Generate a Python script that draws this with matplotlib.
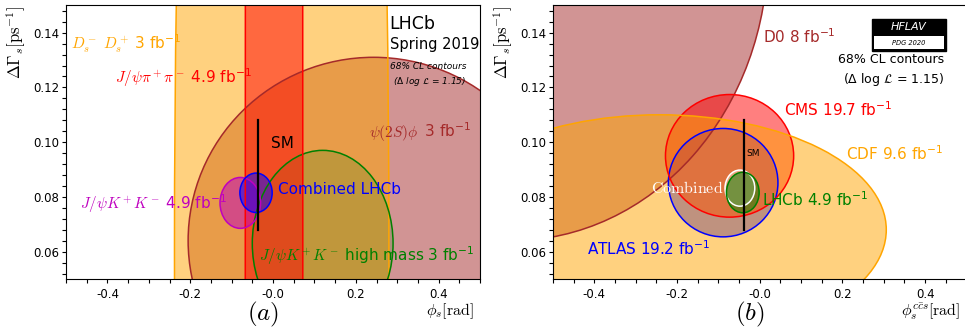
import numpy as np
import matplotlib
matplotlib.use('Agg')
import matplotlib.pyplot as plt
from matplotlib.patches import Ellipse, Rectangle
from matplotlib.ticker import MultipleLocator

plt.rcParams['axes.unicode_minus'] = False

# 68% CL contours: centre (x, y) and half axes (rx, ry)
# panel (a), LHCb only
a_names = ["psi2Sphi", "DsDs", "Jpsipipi", "JpsiKK_hm", "JpsiKK", "comb"]
a_cx = [0.243, 0.021, 0.0025, 0.12, -0.079, -0.041]
a_cy = [0.064, 0.06, 0.06, 0.063, 0.0778, 0.0815]
a_rx = [0.448, 0.259, 0.0695, 0.17, 0.049, 0.039]
a_ry = [0.067, 0.5, 1.0, 0.034, 0.0093, 0.0072]

# panel (b), all experiments
b_names = ["D0", "ATLAS", "CMS", "CDF", "comb", "LHCb"]
b_cx = [-0.6, -0.0885, -0.073, -0.242, -0.048, -0.041]
b_cy = [0.17, 0.0852, 0.095, 0.068, 0.0832, 0.0816]
b_rx = [0.62, 0.1325, 0.155, 0.548, 0.036, 0.0395]
b_ry = [0.106, 0.0198, 0.0224, 0.042, 0.0066, 0.0074]

# standard model prediction
sm_phi = -0.0369
sm_dg = [0.068, 0.108]

xticks = [-0.4, -0.2, 0.0, 0.2, 0.4]
xticklabels = ["-0.4", "-0.2", "-0.0", "0.2", "0.4"]
yticks = [0.06, 0.08, 0.10, 0.12, 0.14]
yticklabels = ["0.06", "0.08", "0.10", "0.12", "0.14"]

fig = plt.figure(figsize=(9.65, 3.31), dpi=100)
ax1 = fig.add_axes([66/965, 52/331, 414/965, 273.7/331])
ax2 = fig.add_axes([553/965, 52/331, 413.5/965, 273.7/331])


def draw_ellipses(ax, cx, cy, rx, ry, fcols, alphas, ecols):
    for i in range(len(cx)):
        ax.add_patch(Ellipse((cx[i], cy[i]), 2*rx[i], 2*ry[i], facecolor=fcols[i],
                             alpha=alphas[i], edgecolor='none', zorder=1+i*0.01))
    for i in range(len(cx)):
        ax.add_patch(Ellipse((cx[i], cy[i]), 2*rx[i], 2*ry[i], facecolor='none',
                             edgecolor=ecols[i], lw=1.1, zorder=2))


def label2(ax, x, y, mathpart, rest, color, size):
    # math part in computer modern, the luminosity part in the normal font
    t = ax.text(x, y, mathpart, color=color, fontsize=size, va='baseline',
                math_fontfamily='cm', zorder=5)
    fig.canvas.draw()
    bb = t.get_window_extent()
    x2 = ax.transData.inverted().transform((bb.x1, bb.y0))[0]
    ax.text(x2, y, rest, color=color, fontsize=size, va='baseline', zorder=5)


def style_axes(ax, xlab):
    ax.set_xlim(-0.5, 0.5)
    ax.set_ylim(0.05, 0.15)
    ax.set_xticks(xticks, labels=xticklabels)
    ax.set_yticks(yticks, labels=yticklabels)
    ax.xaxis.set_minor_locator(MultipleLocator(0.05))
    ax.yaxis.set_minor_locator(MultipleLocator(0.004))
    ax.tick_params(which='both', direction='out', length=3, width=0.8, labelsize=8.5)
    ax.tick_params(axis='y', which='both', pad=2)
    ax.set_ylabel(r'$\Delta\Gamma_s[\mathrm{ps}^{-1}]$', fontsize=12, loc='top',
                  math_fontfamily='cm')
    ax.yaxis.set_label_coords(-0.092, 1.0)
    ax.set_xlabel(xlab, fontsize=11.5, loc='right', math_fontfamily='cm')
    ax.xaxis.set_label_coords(0.985, -0.082)
    ax.xaxis.label.set_va('top')


# ---------- panel (a)
a_fc = ['brown', 'orange', 'red', 'green', 'm', 'blue']
a_al = [0.5, 0.5, 0.5, 0.17, 0.5, 0.5]
a_ec = ['brown', 'orange', 'red', 'green', 'm', 'blue']
order = [0, 1, 3, 2, 4, 5]
draw_ellipses(ax1, [a_cx[i] for i in order], [a_cy[i] for i in order],
              [a_rx[i] for i in order], [a_ry[i] for i in order],
              [a_fc[i] for i in order], [a_al[i] for i in order],
              [a_ec[i] for i in order])
ax1.plot([sm_phi, sm_phi], sm_dg, color='black', lw=1.6, zorder=4)
ax1.text(-0.006, 0.0979, 'SM', fontsize=11, va='baseline', zorder=5)

label2(ax1, -0.488, 0.1339, r'$D_s^-\ D_s^+$', ' 3 fb$^{-1}$', 'orange', 11)
label2(ax1, -0.382, 0.1217, r'$J/\psi\pi^+\pi^-$', ' 4.9 fb$^{-1}$', 'red', 11)
label2(ax1, 0.233, 0.1018, r'$\psi(2S)\phi$', ' 3 fb$^{-1}$', 'brown', 11)
label2(ax1, -0.467, 0.0757, r'$J/\psi K^+K^-$', ' 4.9 fb$^{-1}$', 'm', 11)
label2(ax1, -0.035, 0.0565, r'$J/\psi K^+K^-$', ' high mass 3 fb$^{-1}$', 'green', 11)
ax1.text(0.011, 0.0809, 'Combined LHCb', color='blue', fontsize=11, va='baseline', zorder=5)

ax1.text(0.282, 0.1412, 'LHCb', fontsize=12.5, va='baseline', zorder=5)
ax1.text(0.282, 0.1339, 'Spring 2019', fontsize=10.5, va='baseline', zorder=5)
ax1.text(0.282, 0.1266, '68% CL contours', fontsize=6.5, style='italic',
         va='baseline', zorder=5)
ax1.text(0.29, 0.1211, r'($\Delta$ log $\mathcal{L}$ = 1.15)', fontsize=6.5,
         style='italic', va='baseline', zorder=5)
style_axes(ax1, r'$\phi_s[\mathrm{rad}]$')

# ---------- panel (b)
b_fc = ['brown', 'blue', 'red', 'orange', 'white', 'green']
b_al = [0.5, 0.5, 0.5, 0.5, 0.35, 0.5]
b_ec = ['brown', 'blue', 'red', 'orange', 'white', 'green']
draw_ellipses(ax2, b_cx, b_cy, b_rx, b_ry, b_fc, b_al, b_ec)
ax2.plot([sm_phi, sm_phi], sm_dg, color='black', lw=1.6, zorder=4)
ax2.text(-0.032, 0.0949, 'SM', fontsize=6.5, va='baseline', zorder=5)

ax2.text(0.008, 0.1363, 'D0 8 fb$^{-1}$', color='brown', fontsize=11, va='baseline', zorder=5)
ax2.text(0.058, 0.1095, 'CMS 19.7 fb$^{-1}$', color='red', fontsize=11, va='baseline', zorder=5)
ax2.text(0.208, 0.0934, 'CDF 9.6 fb$^{-1}$', color='orange', fontsize=11, va='baseline', zorder=5)
ax2.text(0.0065, 0.0766, 'LHCb 4.9 fb$^{-1}$', color='green', fontsize=11, va='baseline', zorder=5)
ax2.text(-0.418, 0.0589, 'ATLAS 19.2 fb$^{-1}$', color='blue', fontsize=11, va='baseline', zorder=5)
ax2.text(-0.264, 0.0815, r'$\mathrm{Combined}$', color='white', fontsize=11.5,
         va='baseline', math_fontfamily='cm', zorder=5)

ax2.text(0.447, 0.129, '68% CL contours', fontsize=9, ha='right', va='baseline', zorder=5)
ax2.text(0.447, 0.1215, r'($\Delta$ log $\mathcal{L}$ = 1.15)', fontsize=9,
         ha='right', va='baseline', zorder=5)

# HFLAV logo
ax2.add_patch(Rectangle((0.771, 0.833), 0.18, 0.117, transform=ax2.transAxes,
                        facecolor='black', edgecolor='black', zorder=6))
ax2.add_patch(Rectangle((0.777, 0.840), 0.168, 0.048, transform=ax2.transAxes,
                        facecolor='white', edgecolor='none', zorder=7))
ax2.text(0.861, 0.922, 'HFLAV', color='white', fontsize=8, style='italic',
         ha='center', va='center', transform=ax2.transAxes, zorder=8)
ax2.text(0.861, 0.864, 'PDG 2020', color='black', fontsize=4.8, style='italic',
         ha='center', va='center', transform=ax2.transAxes, zorder=8)
style_axes(ax2, r'$\phi_s^{c\bar{c}s}[\mathrm{rad}]$')

fig.text(263/965, 0.05, r'$(a)$', fontsize=18, ha='center', va='center',
         math_fontfamily='cm')
fig.text(750/965, 0.05, r'$(b)$', fontsize=18, ha='center', va='center',
         math_fontfamily='cm')

fig.savefig('out.png', dpi=100)
